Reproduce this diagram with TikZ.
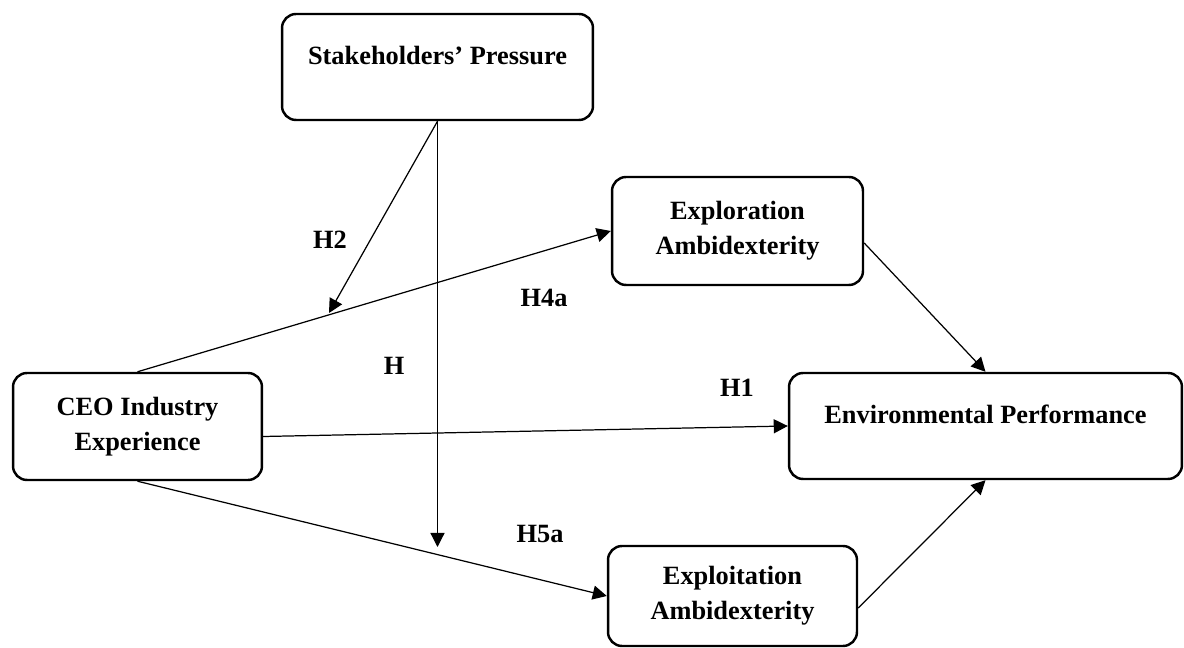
\documentclass[tikz,border=0pt]{standalone}
\usepackage{fontspec}
\setmainfont{Liberation Serif}
\usetikzlibrary{arrows.meta}

\begin{document}
\begin{tikzpicture}[x=0.02cm,y=-0.02cm,>={Triangle[length=8pt,width=8pt]},
  box/.style={draw,line width=1.4pt,rounded corners=0.28cm,align=center,
    font=\fontsize{15}{20}\selectfont\bfseries},
  toptext/.style={text height=10pt,text depth=12.5pt},
  hyp/.style={font=\fontsize{15}{20}\selectfont\bfseries},
  link/.style={->,line width=0.7pt}]
\useasboundingbox (0,0) rectangle (1184,648);

\node[box,toptext,minimum width=6.22cm,minimum height=2.12cm](sp) at (437.5,67) {Stakeholders' Pressure};
\node[box,minimum width=5.02cm,minimum height=2.16cm](explor) at (737.5,231) {Exploration\\Ambidexterity};
\node[box,minimum width=4.98cm,minimum height=2.14cm](ceo) at (137.5,426.5) {CEO Industry\\Experience};
\node[box,toptext,minimum width=7.86cm,minimum height=2.12cm](env) at (985.5,426) {Environmental Performance};
\node[box,minimum width=4.98cm,minimum height=2.0cm](exploit) at (732.5,596) {Exploitation\\Ambidexterity};

\coordinate (tipmid) at (437.5,547);
\coordinate (tipline) at (329,313);

\draw[link] (ceo.north) -- (explor.west);
\draw[link] ([yshift=-0.2cm]ceo.east) -- (env.west);
\draw[link] (ceo.south) -- (exploit.west);
\draw[link] (sp.south) -- (tipmid);
\draw[link] (sp.south) -- (tipline);
\draw[link] ([yshift=-0.24cm]explor.east) -- (env.north);
\draw[link] ([yshift=-0.24cm]exploit.east) -- (env.south);

\node[hyp](h2) at (330,240) {H2};
\node[hyp](h4a) at (544,298) {H4a};
\node[hyp](h) at (394,366) {H};
\node[hyp](h1) at (737,388) {H1};
\node[hyp](h5a) at (540,534) {H5a};
\end{tikzpicture}
\end{document}
